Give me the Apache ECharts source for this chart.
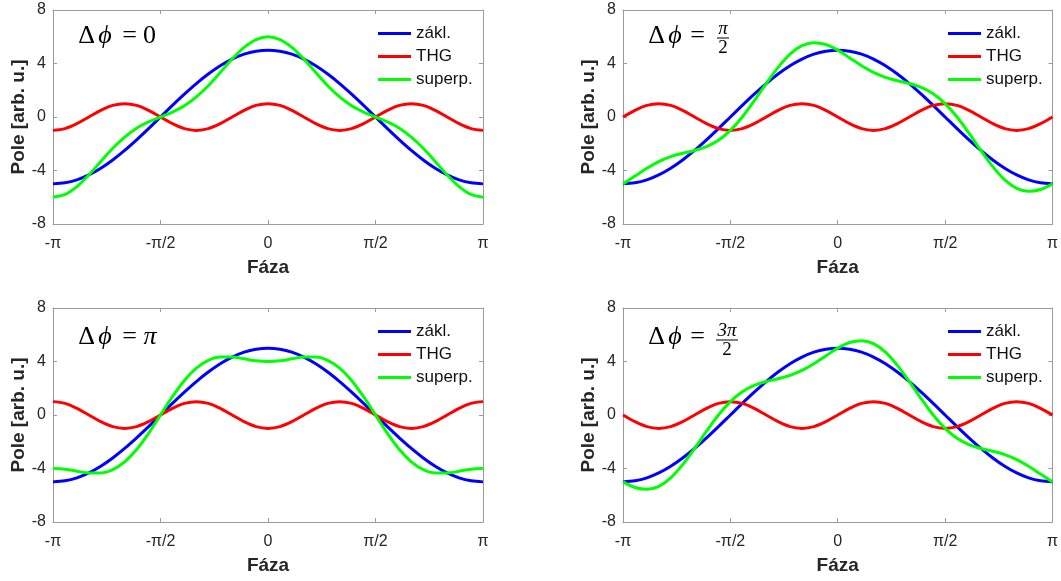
<!DOCTYPE html>
<html><head><meta charset="utf-8">
<script src="https://cdn.jsdelivr.net/npm/echarts@6/dist/echarts.min.js"></script>
<style>html,body{margin:0;padding:0;background:#fff}#c{width:1061px;height:581px}</style>
</head><body><div id="c"></div>
<script>
// Phase in degrees (-180 .. 180, step 10) -> shown as -π .. π
const phaseDeg = [-180,-170,-160,-150,-140,-130,-120,-110,-100,-90,-80,-70,-60,-50,-40,-30,-20,-10,0,10,20,30,40,50,60,70,80,90,100,110,120,130,140,150,160,170,180];
const xTickLabels = ['-π','-π/2','0','π/2','π'];
const yTickValues = [-8,-4,0,4,8];
const seriesNames = ['zákl.','THG','superp.'];
const seriesColors = ['#0000ff','#ff0000','#00ff00'];

const fundamental = [-5,-4.92,-4.7,-4.33,-3.83,-3.21,-2.5,-1.71,-0.87,0,0.87,1.71,2.5,3.21,3.83,4.33,4.7,4.92,5,4.92,4.7,4.33,3.83,3.21,2.5,1.71,0.87,0,-0.87,-1.71,-2.5,-3.21,-3.83,-4.33,-4.7,-4.92,-5];

const thg0 = [-1,-0.87,-0.5,0,0.5,0.87,1,0.87,0.5,0,-0.5,-0.87,-1,-0.87,-0.5,0,0.5,0.87,1,0.87,0.5,0,-0.5,-0.87,-1,-0.87,-0.5,0,0.5,0.87,1,0.87,0.5,0,-0.5,-0.87,-1];
const sup0 = [-6,-5.79,-5.2,-4.33,-3.33,-2.34,-1.5,-0.84,-0.37,0,0.37,0.84,1.5,2.34,3.33,4.33,5.2,5.79,6,5.79,5.2,4.33,3.33,2.34,1.5,0.84,0.37,0,-0.37,-0.84,-1.5,-2.34,-3.33,-4.33,-5.2,-5.79,-6];

const thgHalfPi = [0,0.5,0.87,1,0.87,0.5,0,-0.5,-0.87,-1,-0.87,-0.5,0,0.5,0.87,1,0.87,0.5,0,-0.5,-0.87,-1,-0.87,-0.5,0,0.5,0.87,1,0.87,0.5,0,-0.5,-0.87,-1,-0.87,-0.5,0];
const supHalfPi = [-5,-4.42,-3.83,-3.33,-2.96,-2.71,-2.5,-2.21,-1.74,-1,0,1.21,2.5,3.71,4.7,5.33,5.56,5.42,5,4.42,3.83,3.33,2.96,2.71,2.5,2.21,1.74,1,0,-1.21,-2.5,-3.71,-4.7,-5.33,-5.56,-5.42,-5];

const thgPi = [1,0.87,0.5,0,-0.5,-0.87,-1,-0.87,-0.5,0,0.5,0.87,1,0.87,0.5,0,-0.5,-0.87,-1,-0.87,-0.5,0,0.5,0.87,1,0.87,0.5,0,-0.5,-0.87,-1,-0.87,-0.5,0,0.5,0.87,1];
const supPi = [-4,-4.05,-4.2,-4.33,-4.33,-4.08,-3.5,-2.58,-1.37,0,1.37,2.58,3.5,4.08,4.33,4.33,4.2,4.05,4,4.05,4.2,4.33,4.33,4.08,3.5,2.58,1.37,0,-1.37,-2.58,-3.5,-4.08,-4.33,-4.33,-4.2,-4.05,-4];

const thgThreeHalfPi = [0,-0.5,-0.87,-1,-0.87,-0.5,0,0.5,0.87,1,0.87,0.5,0,-0.5,-0.87,-1,-0.87,-0.5,0,0.5,0.87,1,0.87,0.5,0,-0.5,-0.87,-1,-0.87,-0.5,0,0.5,0.87,1,0.87,0.5,0];
const supThreeHalfPi = [-5,-5.42,-5.56,-5.33,-4.7,-3.71,-2.5,-1.21,0,1,1.74,2.21,2.5,2.71,2.96,3.33,3.83,4.42,5,5.42,5.56,5.33,4.7,3.71,2.5,1.21,0,-1,-1.74,-2.21,-2.5,-2.71,-2.96,-3.33,-3.83,-4.42,-5];

const thgSets = [thg0, thgHalfPi, thgPi, thgThreeHalfPi];
const supSets = [sup0, supHalfPi, supPi, supThreeHalfPi];

const grids = [
  {left:53, top:10, width:430, height:214},
  {left:623, top:10, width:431, height:214},
  {left:53, top:308, width:430, height:214},
  {left:623, top:308, width:431, height:214}
];

const AX = '#9b9b9b', TXT = '#262626';
const SANS = 'Liberation Sans, Arial, sans-serif';
const pair = vals => phaseDeg.map((p,i)=>[p, vals[i]]);

const xAxes = [], yAxes = [], series = [], legends = [];
grids.forEach((g, gi) => {
  const common = {type:'value', gridIndex:gi, min:-180, max:180, interval:90,
    splitLine:{show:false},
    axisLine:{show:true, onZero:false, lineStyle:{color:AX, width:1}},
    axisTick:{show:true, inside:true, length:4, lineStyle:{color:AX}}};
  xAxes.push(Object.assign({}, common, {position:'bottom',
    axisLabel:{show:true, margin:12, color:TXT, fontSize:16, fontFamily:SANS,
      formatter: v => xTickLabels[Math.round((v+180)/90)]},
    name:'Fáza', nameLocation:'middle', nameGap:34,
    nameTextStyle:{color:TXT, fontSize:19, fontWeight:'bold', fontFamily:SANS}}));
  xAxes.push(Object.assign({}, common, {position:'top', axisLabel:{show:false}}));
  const ycommon = {type:'value', gridIndex:gi, min:-8, max:8, interval:4,
    splitLine:{show:false},
    axisLine:{show:true, onZero:false, lineStyle:{color:AX, width:1}},
    axisTick:{show:true, inside:true, length:4, lineStyle:{color:AX}}};
  yAxes.push(Object.assign({}, ycommon, {position:'left',
    axisLabel:{show:true, margin:7, color:TXT, fontSize:16, fontFamily:SANS,
      formatter: v => String(yTickValues[Math.round((v+8)/4)])},
    name:'Pole [arb. u.]', nameLocation:'middle', nameGap:23,
    nameTextStyle:{color:TXT, fontSize:19, fontWeight:'bold', fontFamily:SANS}}));
  yAxes.push(Object.assign({}, ycommon, {position:'right', axisLabel:{show:false}}));

  const sets = [fundamental, thgSets[gi], supSets[gi]];
  sets.forEach((vals, si) => {
    series.push({type:'line', name:seriesNames[si], xAxisIndex:gi*2, yAxisIndex:gi*2,
      data: pair(vals), smooth:0.34, symbol:'none', showSymbol:false, silent:true,
      clip:true, animation:false,
      lineStyle:{color:seriesColors[si], width:3},
      itemStyle:{color:seriesColors[si]}, z: 2+si});
  });

  legends.push({data:seriesNames, orient:'vertical', left:g.left+325, top:g.top+15,
    padding:0, itemGap:6, icon:'rect', itemWidth:33, itemHeight:3, selectedMode:false,
    itemStyle:{borderWidth:0},
    textStyle:{color:'#111', fontSize:17, fontFamily:SANS}});
});

const serif = 'Liberation Serif, DejaVu Serif, serif';
const rich = {
  D:{fontFamily:serif, fontSize:26, width:19, align:'center', color:'#000'},
  P:{fontFamily:serif, fontSize:26, fontStyle:'italic', width:18, align:'center', color:'#000'},
  S:{fontSize:24, width:7},
  T:{fontSize:24, width:5},
  E:{fontFamily:serif, fontSize:26, width:17, align:'center', color:'#000'},
  V:{fontFamily:serif, fontSize:26, width:13, align:'center', color:'#000'},
  I:{fontFamily:serif, fontSize:26, fontStyle:'italic', width:14, align:'center', color:'#000'}
};
function head(x, y, tail, gap){
  return {type:'text', x:x, y:y, style:{text:'{D|Δ}{P|ϕ}{'+gap+'| }{E|=}{T| }'+tail, rich:rich, verticalAlign:'middle', align:'left'}};
}
function frac(cx, cy, num){
  const hw = num.length > 1 ? 11 : 6;
  return [
    {type:'text', x:cx, y:cy-8, style:{text:num, font:'italic 19px '+serif, fill:'#000', align:'center', verticalAlign:'middle'}},
    {type:'line', shape:{x1:cx-hw, y1:cy+1, x2:cx+hw, y2:cy+1}, style:{stroke:'#000', lineWidth:1}},
    {type:'text', x:cx, y:cy+11, style:{text:'2', font:'19px '+serif, fill:'#000', align:'center', verticalAlign:'middle'}}
  ];
}
const graphic = [
  head(77, 36, '{V|0}', 'S'),
  head(647, 36, '', 'T'),
  ...frac(723, 37, 'π'),
  head(77, 337, '{I|π}', 'S'),
  head(647, 337, '', 'T'),
  ...frac(727, 339, '3π')
];

const chart = echarts.init(document.getElementById('c'), null, {renderer:'canvas'});
chart.setOption({
  animation:false,
  backgroundColor:'#fff',
  grid: grids,
  xAxis: xAxes,
  yAxis: yAxes,
  legend: legends,
  series: series,
  graphic: graphic
});
</script></body></html>
